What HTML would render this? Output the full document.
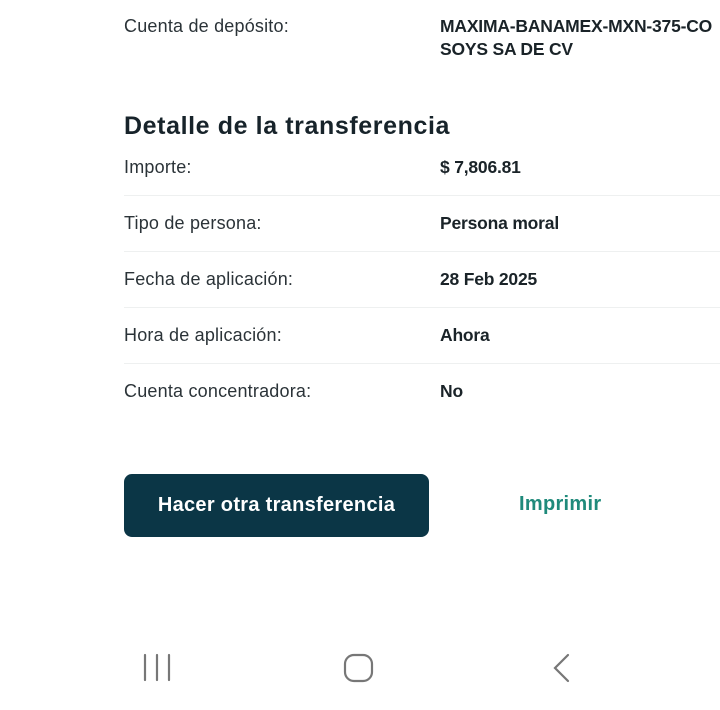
<!DOCTYPE html>
<html><head><meta charset="utf-8"><style>
html,body{margin:0;padding:0;width:720px;height:710px;background:#fff;overflow:hidden;font-family:"Liberation Sans",sans-serif;color:#1f2a30}
.a{position:absolute;white-space:nowrap}
.l{left:124px;font-size:18px;color:#2b3338;letter-spacing:0.2px}
.v{left:440px;font-size:17.5px;font-weight:bold;color:#1a2328;letter-spacing:-0.2px}
.sep{position:absolute;left:124px;right:0;height:1px;background:#eef0f0}
</style></head><body>
<div class="a l" style="top:16px">Cuenta de depósito:</div>
<div class="a v" style="top:16px">MAXIMA-BANAMEX-MXN-375-CO</div>
<div class="a v" style="top:39px">SOYS SA DE CV</div>
<div class="a" style="left:124px;top:112px;font-size:25px;font-weight:bold;color:#17232a;letter-spacing:0.6px">Detalle de la transferencia</div>
<div class="a l" style="top:157px">Importe:</div><div class="a v" style="top:157px">$ 7,806.81</div>
<div class="sep" style="top:195px"></div>
<div class="a l" style="top:213px">Tipo de persona:</div><div class="a v" style="top:213px">Persona moral</div>
<div class="sep" style="top:251px"></div>
<div class="a l" style="top:269px">Fecha de aplicación:</div><div class="a v" style="top:269px">28 Feb 2025</div>
<div class="sep" style="top:307px"></div>
<div class="a l" style="top:325px">Hora de aplicación:</div><div class="a v" style="top:325px">Ahora</div>
<div class="sep" style="top:363px"></div>
<div class="a l" style="top:381px">Cuenta concentradora:</div><div class="a v" style="top:381px">No</div>
<div class="a" style="left:124px;top:474px;width:305px;height:63px;background:#0b3646;border-radius:8px;color:#fff;font-weight:bold;font-size:20px;text-align:center;line-height:62px;letter-spacing:0.3px">Hacer otra transferencia</div>
<div class="a" style="left:519px;top:493px;font-size:20px;font-weight:bold;color:#1f8a7b;letter-spacing:0.3px">Imprimir</div>
<svg class="a" style="left:0;top:640px" width="720" height="60">
<g stroke="#777" stroke-width="2.2" fill="none" stroke-linecap="round">
<line x1="145" y1="15" x2="145" y2="40"/><line x1="157" y1="15" x2="157" y2="40"/><line x1="169" y1="15" x2="169" y2="40"/>
<rect x="345" y="15" width="27" height="26" rx="9"/>
<polyline points="568,15 555,28 568,41"/>
</g></svg>
</body></html>
